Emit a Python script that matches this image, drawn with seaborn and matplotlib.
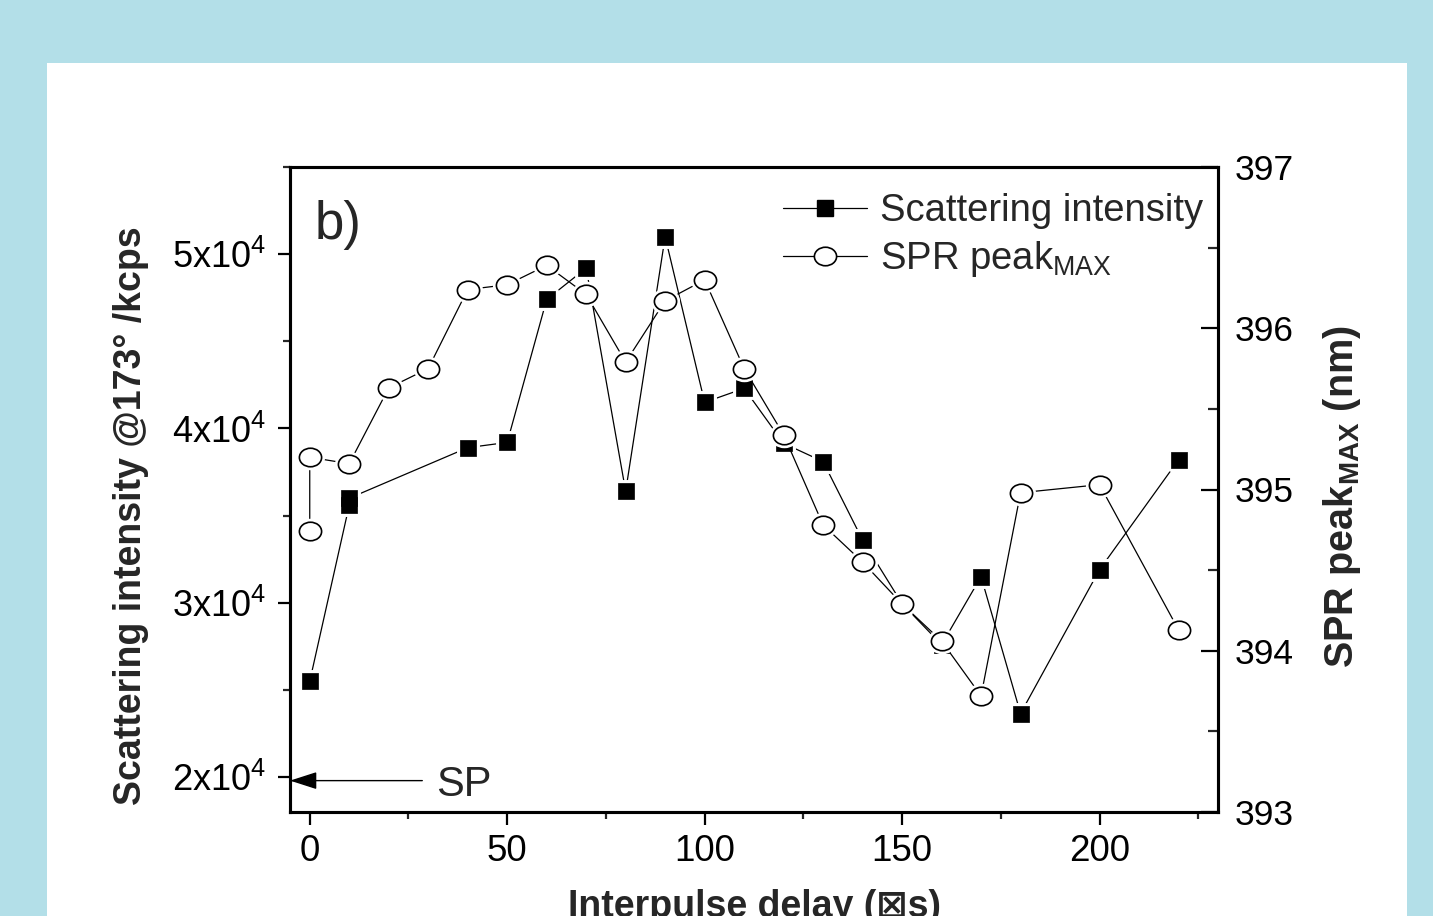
import numpy as np
import pandas as pd
import seaborn as sns
import matplotlib
matplotlib.use("Agg")
import matplotlib.pyplot as plt
from matplotlib.path import Path
from matplotlib.lines import Line2D
from matplotlib.patches import Rectangle
from matplotlib.ticker import MultipleLocator, FixedLocator, FuncFormatter

# ---------------- data ----------------
delay_scat = [0, 10, 10, 40, 50, 60, 70, 80, 90, 100, 110, 120, 130, 140, 150, 160, 170, 180, 200, 220]
scat_int = [25500, 35600, 36000, 38900, 39200, 47400, 49200, 36400, 51000, 41500,
            42300, 39150, 38100, 33600, 29950, 27600, 31500, 23650, 31900, 38200]

delay_spr = [0, 0, 10, 20, 30, 40, 50, 60, 70, 80, 90, 100, 110, 120, 130, 140, 150, 160, 170, 180, 200, 220]
spr_peak = [394.74, 395.20, 395.16, 395.63, 395.75, 396.24, 396.27, 396.39, 396.21, 395.79, 396.17,
            396.30, 395.75, 395.34, 394.78, 394.55, 394.29, 394.06, 393.72, 394.98, 395.03, 394.13]

left_ticks = [20000, 30000, 40000, 50000]
left_tick_labels = ["2x10$^{4}$", "3x10$^{4}$", "4x10$^{4}$", "5x10$^{4}$"]
right_ticks = [393, 394, 395, 396, 397]
x_ticks = [0, 50, 100, 150, 200]

df_scat = pd.DataFrame({"delay": delay_scat, "value": scat_int})
df_spr = pd.DataFrame({"delay": delay_spr, "value": spr_peak})

# ---------------- style ----------------
sns.set_theme(style="white")
plt.rcParams["font.family"] = ["Liberation Sans", "DejaVu Sans"]
plt.rcParams["mathtext.fontset"] = "custom"
plt.rcParams["mathtext.rm"] = "Liberation Sans"
plt.rcParams["mathtext.bf"] = "Liberation Sans:bold"
plt.rcParams["mathtext.it"] = "Liberation Sans:italic"
plt.rcParams["mathtext.default"] = "regular"

W, H = 1433, 916
fig = plt.figure(figsize=(W / 100, H / 100), dpi=100)
fig.patch.set_facecolor("#b3dfe8")
fig.patches.append(Rectangle((47 / W, 0), (1407 - 47) / W, 1 - 63 / H,
                             transform=fig.transFigure, facecolor="white",
                             edgecolor="none", zorder=0))

ax = fig.add_axes([290 / W, 1 - 812 / H, (1218 - 290) / W, (812 - 167) / H])
ax.set_facecolor("none")
ax2 = ax.twinx()
ax2.set_facecolor("none")

ellipse = Path.unit_circle().transformed(matplotlib.transforms.Affine2D().scale(1.2, 1.0))

lw = 0.9
sq_size = 11.0
el_size = 16.0
# scattering intensity (left axis)
sns.lineplot(data=df_scat, x="delay", y="value", ax=ax, sort=False, estimator=None,
             color="black", lw=lw, zorder=2)
ax.scatter(df_scat["delay"], df_scat["value"], marker="s", s=sq_size ** 2, c="white",
           edgecolors="white", linewidths=5, zorder=3)
sns.scatterplot(data=df_scat, x="delay", y="value", ax=ax, marker="s", s=sq_size ** 2,
                color="black", edgecolor="black", linewidth=0.5, zorder=4, legend=False)

# SPR peak (right axis)
sns.lineplot(data=df_spr, x="delay", y="value", ax=ax2, sort=False, estimator=None,
             color="black", lw=lw, zorder=2)
ax2.scatter(df_spr["delay"], df_spr["value"], marker=ellipse, s=el_size ** 2, c="white",
            edgecolors="white", linewidths=5, zorder=3)
sns.scatterplot(data=df_spr, x="delay", y="value", ax=ax2, marker=ellipse, s=el_size ** 2,
                color="white", edgecolor="black", linewidth=1.2, zorder=4, legend=False)

# ---------------- axes ----------------
ax.set_xlim(-5, 230)
ax.set_ylim(18000, 55000)
ax2.set_ylim(393, 397)

for a in (ax, ax2):
    for s in a.spines.values():
        s.set_linewidth(2.2)
        s.set_color("black")

ax.xaxis.set_major_locator(FixedLocator(x_ticks))
ax.xaxis.set_minor_locator(MultipleLocator(25))
ax.yaxis.set_major_locator(FixedLocator(left_ticks))
ax.yaxis.set_major_formatter(FuncFormatter(lambda v, p: left_tick_labels[left_ticks.index(int(round(v)))]
                                           if int(round(v)) in left_ticks else ""))
ax.yaxis.set_minor_locator(MultipleLocator(5000))
ax2.yaxis.set_major_locator(FixedLocator(right_ticks))
ax2.yaxis.set_minor_locator(MultipleLocator(0.5))

ax.tick_params(axis="x", which="major", direction="out", length=9, width=1.6, pad=7,
               labelsize=26.5, bottom=True, top=False, colors="black")
ax.tick_params(axis="x", which="minor", direction="out", length=5, width=1.6, bottom=True, top=False)
ax.tick_params(axis="y", which="major", direction="out", length=9, width=1.6, pad=8,
               labelsize=26, left=True, right=False, colors="black")
ax.tick_params(axis="y", which="minor", direction="out", length=5, width=1.6, left=True, right=False)
ax2.tick_params(axis="y", which="major", direction="in", length=12, width=1.6, pad=12,
                labelsize=25.5, right=True, left=False, colors="black")
ax2.tick_params(axis="y", which="minor", direction="in", length=7, width=1.6, right=True, left=False)

ax.set_xlabel("Interpulse delay (\u22a0s)", fontsize=27, fontweight="bold", va="baseline",
              family=["Liberation Sans", "DejaVu Sans"])
ax.xaxis.set_label_coords(0.5, (812 - 917) / 645)
ax.set_ylabel("Scattering intensity @173\u00b0 /kcps", fontsize=27, fontweight="bold", va="center")
ax.yaxis.set_label_coords((131 - 290) / 928, (812 - 516) / 645)
ax2.set_ylabel(r"SPR peak$_{\mathbf{MAX}}$ (nm)", fontsize=28.5, fontweight="bold", va="center",
               rotation=90)
ax2.yaxis.set_label_coords((1342 - 290) / 928, (812 - 497) / 645)

# panel label and SP annotation
ax.text(0.027, (812 - 239) / 645, "b)", transform=ax.transAxes, fontsize=38, va="baseline")
ax.annotate("", xy=(-5, 19800), xytext=(28.5, 19800),
            arrowprops=dict(arrowstyle="-|>,head_length=1.4,head_width=0.45", color="black",
                            lw=1.0, shrinkA=0, shrinkB=0))
ax.text(32, 18900, "SP", fontsize=30, va="baseline", ha="left")

# legend
handles = [Line2D([], [], color="black", lw=lw, marker="s", markersize=sq_size,
                  markerfacecolor="black", markeredgecolor="black"),
           Line2D([], [], color="black", lw=lw, marker=ellipse, markersize=el_size,
                  markerfacecolor="white", markeredgecolor="black", markeredgewidth=1.2)]
leg = ax2.legend(handles, ["Scattering intensity", r"SPR peak$_{\mathregular{MAX}}$"],
                 loc="upper right", bbox_to_anchor=(1.021, 1.013), frameon=False, fontsize=27.5,
                 handlelength=2.2, handletextpad=0.35, labelspacing=0.26, borderpad=0.4,
                 numpoints=1)

ax.set_zorder(1)
ax2.set_zorder(2)

fig.savefig("out.png", dpi=100, facecolor=fig.get_facecolor())
